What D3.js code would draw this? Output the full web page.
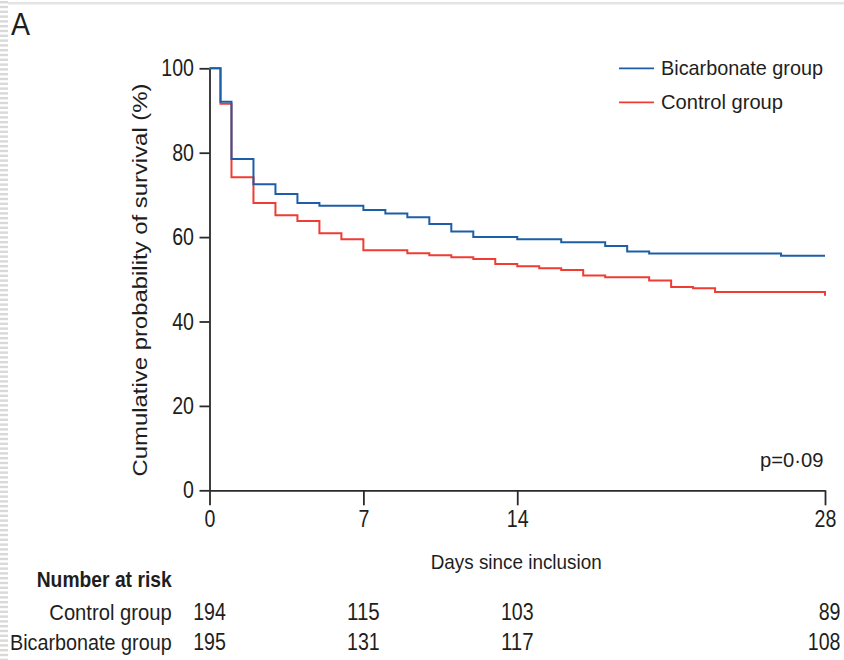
<!DOCTYPE html>
<html>
<head>
<meta charset="utf-8">
<script src="https://cdn.jsdelivr.net/npm/d3@7"></script>
<style>
  html, body { margin: 0; padding: 0; background: #ffffff; }
  svg { display: block; }
  text { font-family: "Liberation Sans", Arial, sans-serif; fill: #1e1e1e; }
</style>
</head>
<body>
<svg id="chart" width="844" height="660"></svg>
<script>
// Kaplan–Meier step data: day of each drop and survival (%) after it
const bicarbDays = [0, 0.5, 1, 2, 3, 4, 5, 7, 8, 9, 10, 11, 12, 14, 16, 18, 19, 20, 26, 28];
const bicarbSurv = [100, 92.1, 78.5, 72.5, 70.2, 68.1, 67.4, 66.4, 65.6, 64.7, 63.1, 61.3, 60.0, 59.5, 58.8, 57.9, 56.6, 56.1, 55.6, 55.6];

const controlDays = [0, 0.5, 1, 2, 3, 4, 5, 6, 7, 9, 10, 11, 12, 13, 14, 15, 16, 17, 18, 20, 21, 22, 23, 28];
const controlSurv = [100, 91.6, 74.2, 68.1, 65.2, 63.8, 60.9, 59.5, 56.9, 56.2, 55.7, 55.2, 54.8, 53.6, 53.1, 52.6, 52.2, 50.9, 50.5, 49.7, 48.2, 47.9, 47.0, 46.1];

// Axis ticks
const xTicks = [0, 7, 14, 28];
const yTicks = [0, 20, 40, 60, 80, 100];

// Number-at-risk table
const riskDays = [0, 7, 14, 28];
const controlRisk = [194, 115, 103, 89];
const bicarbRisk = [195, 131, 117, 108];

const groupNames = ["Bicarbonate group", "Control group"];
const groupColors = ["#1d5ea8", "#ee3d33"];

// the figure's typeface has narrow figures: squeeze each numeral string to that width
const digitWidth = 10.9;
const narrowNum = sel => sel
  .attr("textLength", function () { return this.textContent.length * digitWidth; })
  .attr("lengthAdjust", "spacingAndGlyphs");

const svg = d3.select("#chart");

// faint page edge: top rule and dashed left margin
svg.append("rect").attr("x", 8).attr("y", 2).attr("width", 836).attr("height", 2.5).attr("fill", "#e4e4e4");
svg.append("g").selectAll("rect").data(d3.range(1, 660, 4.8)).join("rect")
  .attr("x", 0).attr("y", d => d).attr("width", 8).attr("height", 2.4)
  .attr("fill", "#d9d9d9");

// panel letter
svg.append("text").attr("x", 11).attr("y", 35)
  .attr("textLength", 19).attr("lengthAdjust", "spacingAndGlyphs")
  .style("font-size", "31px").text("A");

const x = d3.scaleLinear().domain([0, 28]).range([209.5, 825]);
const y = d3.scaleLinear().domain([0, 100]).range([490.3, 68.3]);

// axes
const axisColor = "#2a2a2a";
const gx = svg.append("g").attr("transform", `translate(0,${y(0)})`)
  .call(d3.axisBottom(x).tickValues(xTicks).tickSize(15).tickSizeOuter(0).tickPadding(5).tickFormat(d3.format("d")));
const gy = svg.append("g").attr("transform", `translate(${x(0)},0)`)
  .call(d3.axisLeft(y).tickValues(yTicks).tickSize(10).tickSizeOuter(0).tickPadding(5.5).tickFormat(d3.format("d")));
[gx, gy].forEach(g => {
  g.select(".domain").attr("stroke", axisColor).attr("stroke-width", 1.8);
  g.selectAll(".tick line").attr("stroke", axisColor).attr("stroke-width", 1.8);
  g.selectAll(".tick text").attr("fill", "#1e1e1e")
    .style("font-family", "'Liberation Sans', Arial, sans-serif")
    .style("font-size", "24px")
    .call(narrowNum);
});

// axis titles
svg.append("text")
  .attr("transform", `translate(147,${(83 + 477) / 2}) rotate(-90)`)
  .attr("text-anchor", "middle")
  .attr("textLength", 393).attr("lengthAdjust", "spacingAndGlyphs")
  .style("font-size", "21px")
  .text("Cumulative probability of survival (%)");

svg.append("text").attr("x", 430.7).attr("y", 568.5)
  .attr("textLength", 171).attr("lengthAdjust", "spacingAndGlyphs")
  .style("font-size", "21px")
  .text("Days since inclusion");

// survival curves (control first so the bicarbonate line sits on top)
const line = d3.line().x(d => x(d[0])).y(d => y(d[1])).curve(d3.curveStepAfter);
const series = [
  { days: controlDays, surv: controlSurv, color: groupColors[1] },
  { days: bicarbDays, surv: bicarbSurv, color: groupColors[0] }
];
svg.append("g").selectAll("path").data(series).join("path")
  .attr("d", s => line(d3.zip(s.days, s.surv)))
  .attr("fill", "none")
  .attr("stroke", s => s.color)
  .attr("stroke-width", 2);

// legend
const legend = svg.append("g");
const legendRows = [
  { name: groupNames[0], color: groupColors[0], y: 68.3, len: 162 },
  { name: groupNames[1], color: groupColors[1], y: 102.3, len: 122 }
];
legend.selectAll("line").data(legendRows).join("line")
  .attr("x1", 619).attr("x2", 654)
  .attr("y1", d => d.y).attr("y2", d => d.y)
  .attr("stroke", d => d.color).attr("stroke-width", 1.8);
legend.selectAll("text").data(legendRows).join("text")
  .attr("x", 661).attr("y", d => d.y + 6.5)
  .attr("textLength", d => d.len).attr("lengthAdjust", "spacingAndGlyphs")
  .style("font-size", "21px")
  .text(d => d.name);

// p value
svg.append("text").attr("x", 760).attr("y", 466.7)
  .attr("textLength", 63.5).attr("lengthAdjust", "spacingAndGlyphs")
  .style("font-size", "20px")
  .text("p=0·09");

// number at risk
svg.append("text").attr("x", 36.7).attr("y", 587)
  .attr("textLength", 135).attr("lengthAdjust", "spacingAndGlyphs")
  .style("font-weight", "bold")
  .style("font-size", "22px")
  .text("Number at risk");

const lastDay = riskDays[riskDays.length - 1];
const riskRows = [
  { name: groupNames[1], values: controlRisk, base: 620, len: 122.4 },
  { name: groupNames[0], values: bicarbRisk, base: 650, len: 161.7 }
];
riskRows.forEach(r => {
  svg.append("text").attr("x", 171.7).attr("y", r.base)
    .attr("text-anchor", "end")
    .attr("textLength", r.len).attr("lengthAdjust", "spacingAndGlyphs")
    .style("font-size", "22.5px")
    .text(r.name);
  // counts sit centred under their day, the last column is set flush right
  svg.append("g").selectAll("text").data(d3.zip(riskDays, r.values)).join("text")
    .attr("x", d => d[0] === lastDay ? x(d[0]) + 15.5 : x(d[0]))
    .attr("y", r.base)
    .attr("text-anchor", d => d[0] === lastDay ? "end" : "middle")
    .style("font-size", "24px")
    .text(d => d[1])
    .call(narrowNum);
});
</script>
</body>
</html>
